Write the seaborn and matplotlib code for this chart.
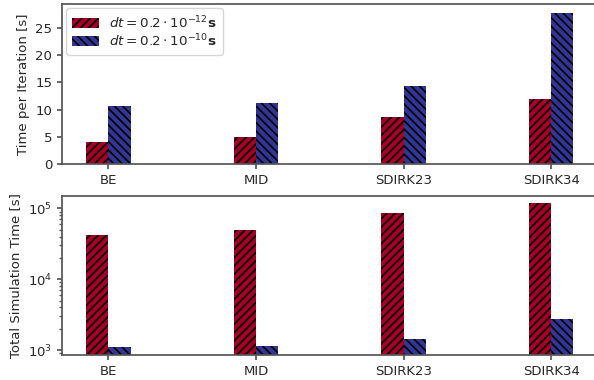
import pandas as pd
import matplotlib
matplotlib.use("Agg")
import matplotlib.pyplot as plt
import seaborn as sns

sns.set_theme(style="ticks", rc={"axes.edgecolor": "#555555"})
plt.rcParams["font.family"] = ["DejaVu Sans"]
plt.rcParams["hatch.linewidth"] = 1.2

# Data
methods = ["BE", "MID", "SDIRK23", "SDIRK34"]
step_labels = [r"$dt = 0.2 \cdot 10^{-12}\mathbf{s}$", r"$dt = 0.2 \cdot 10^{-10}\mathbf{s}$"]
time_per_iter_small = [4.1, 4.9, 8.6, 11.9]
time_per_iter_large = [10.7, 11.3, 14.3, 27.7]
total_time_small = [41500, 49000, 87000, 121000]
total_time_large = [1100, 1140, 1430, 2760]

colors = ["#a50026", "#313695"]
hatches = ["////", "\\\\\\\\"]
fs = 9.5


def make_df(small, large):
    return pd.DataFrame({
        "method": methods * 2,
        "dt": [step_labels[0]] * 4 + [step_labels[1]] * 4,
        "value": small + large,
    })


def draw(ax, df):
    sns.barplot(data=df, x="method", y="value", hue="dt", order=methods,
                hue_order=step_labels, palette=colors, saturation=1, width=0.3,
                dodge=True, legend=False, ax=ax, edgecolor="black", linewidth=0)
    for cont, h in zip(ax.containers, hatches):
        for bar in cont:
            bar.set_hatch(h)
    ax.set_xlim(-0.315, 3.315)
    ax.set_xlabel("")
    ax.tick_params(labelsize=fs, length=3.5, color="#555555")
    return ax


fig = plt.figure(figsize=(5.94, 3.80), dpi=100)
ax1 = fig.add_axes([0.1044, 0.5684, 0.9017, 0.4205])
ax2 = fig.add_axes([0.1044, 0.0658, 0.9017, 0.4184])

draw(ax1, make_df(time_per_iter_small, time_per_iter_large))
ax1.set_ylabel("Time per Iteration [s]", fontsize=fs)
ax1.set_yticks([0, 5, 10, 15, 20, 25])
ax1.set_ylim(0, 29.4)
ax1.legend(ax1.containers[:2], step_labels, loc="upper left", fontsize=9.7,
           handlelength=2.0, labelspacing=0.1, borderaxespad=0.3,
           borderpad=0.45, handletextpad=0.75, frameon=True)

draw(ax2, make_df(total_time_small, total_time_large))
ax2.set_yscale("log")
ax2.set_ylim(850, 150000)
ax2.set_ylabel("Total Simulation Time [s]", fontsize=fs)
ax2.tick_params(which="minor", length=2, color="#555555")

fig.savefig("out.png", dpi=100)
